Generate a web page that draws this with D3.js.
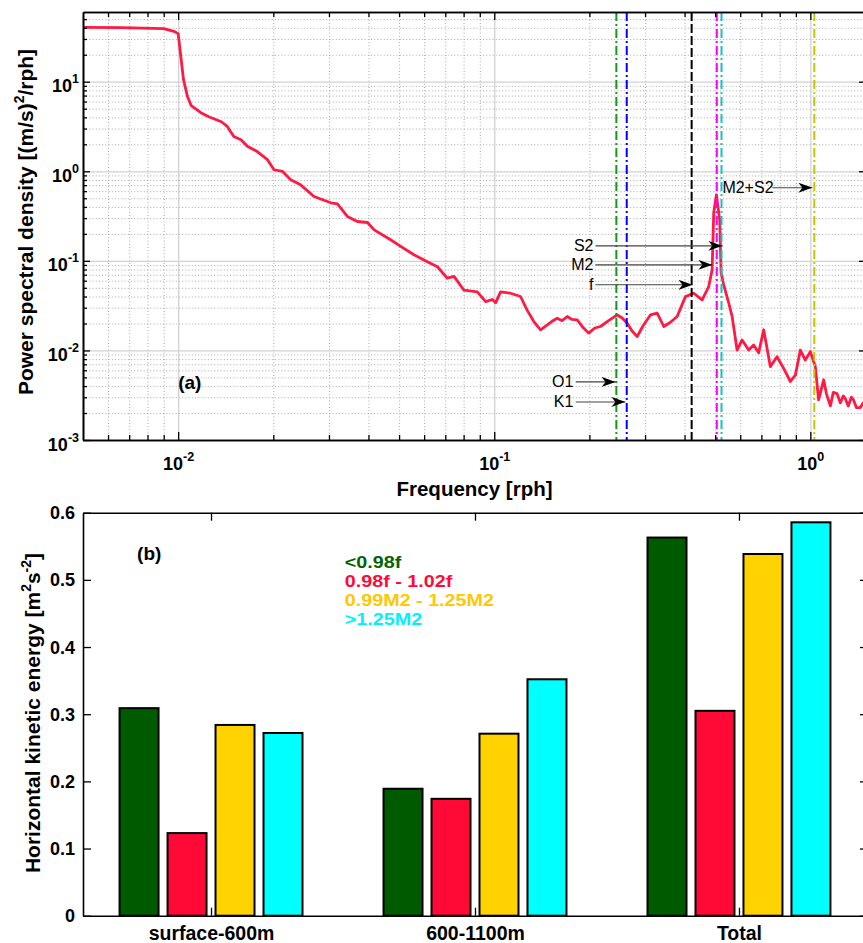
<!DOCTYPE html>
<html><head><meta charset="utf-8">
<script src="https://cdn.jsdelivr.net/npm/d3@7"></script>
<style>
html,body{margin:0;padding:0;background:#fff;}
svg{display:block;font-family:'Liberation Sans',Arial,Helvetica,sans-serif;}
</style></head><body>
<svg id="fig" width="863" height="943"></svg>
<script>
// ---------- panel (a): horizontal velocity spectrum ----------
const freq = [0.005,0.0066,0.009,0.0097,0.0100,0.0104,0.0107,0.0110,0.0118,0.0125,0.0137,0.0143,0.0150,0.0158,0.0166,0.0178,0.0192,0.0201,0.0214,0.0227,0.0244,0.0269,0.0304,0.0319,0.0343,0.0369,0.0397,0.0417,0.0470,0.0506,0.0557,0.0614,0.0661,0.0710,0.0746,0.0802,0.0884,0.0939,0.0986,0.1010,0.1047,0.1126,0.1211,0.1272,0.1334,0.1401,0.1472,0.1520,0.1582,0.1640,0.1702,0.1760,0.183,0.191,0.199,0.2080,0.2168,0.2300,0.2449,0.2540,0.2634,0.2730,0.2833,0.2960,0.3119,0.3277,0.3438,0.3600,0.379,0.4026,0.4276,0.4546,0.477,0.489,0.4947,0.5045,0.5167,0.522,0.532,0.5517,0.5656,0.5865,0.6082,0.6383,0.6617,0.6863,0.7118,0.7472,0.7845,0.8233,0.8644,0.8967,0.9298,0.9643,1.0,1.037,1.062,1.102,1.124,1.157,1.182,1.214,1.244,1.271,1.29,1.318,1.348,1.37,1.398,1.439,1.47,1.503];
const psd  = [40.4,40.1,39.1,36.5,34.4,10.5,6.85,5.40,4.51,4.06,3.57,3.17,2.45,2.25,1.89,1.66,1.34,1.04,0.995,0.804,0.706,0.523,0.445,0.433,0.313,0.275,0.268,0.222,0.172,0.145,0.117,0.098,0.086,0.064,0.067,0.047,0.045,0.035,0.037,0.034,0.045,0.0435,0.040,0.028,0.021,0.017,0.0193,0.0210,0.0229,0.0215,0.0239,0.0222,0.0219,0.0180,0.0156,0.0178,0.0185,0.0215,0.0249,0.0230,0.0201,0.0165,0.0143,0.0190,0.0249,0.0261,0.0185,0.0205,0.0239,0.0399,0.0435,0.0366,0.0516,0.0792,0.344,0.546,0.287,0.0735,0.054,0.034,0.0239,0.0101,0.0131,0.0101,0.0115,0.0094,0.0170,0.0066,0.0085,0.0063,0.0045,0.0053,0.0101,0.0078,0.0097,0.0066,0.0028,0.0047,0.0033,0.0024,0.0034,0.0033,0.0026,0.0031,0.0029,0.0024,0.0030,0.0028,0.0023,0.0023,0.0026,0.0025];

// tidal / inertial frequencies [rad/h]
const tideNames = ["O1","K1","f","M2","S2","M2+S2"];
const tideFreq  = [0.2434,0.2625,0.4212,0.5059,0.5236,1.0295];

const freqTicks = [0.01,0.1,1];
const psdTicks  = [1e-3,1e-2,1e-1,1,10];

// ---------- panel (b): band-integrated kinetic energy ----------
const layers    = ["surface-600m","600-1100m","Total"];
const bandNames = ["<0.98f","0.98f - 1.02f","0.99M2 - 1.25M2",">1.25M2"];
const subInertial = [0.309,0.189,0.563];
const nearInertial = [0.123,0.174,0.305];
const semidiurnal = [0.284,0.271,0.5385];
const superTidal = [0.272,0.352,0.5857];
const energyTicks = [0,0.1,0.2,0.3,0.4,0.5,0.6];

const bandValues = [subInertial, nearInertial, semidiurnal, superTidal];
const bandFill = ["#005a00","#ff0a37","#ffd200","#00ffff"];
const bandText = ["#006400","#ff0a37","#ffc800","#00f0ff"];

const tideStyle = {
  "O1":   {c:"#129a12", d:"9,3,2,3"},
  "K1":   {c:"#0000ff", d:"9,3,2,3"},
  "f":    {c:"#000000", d:"9,3"},
  "M2":   {c:"#ff00ff", d:"9,3,2,3"},
  "S2":   {c:"#18c0c0", d:"9,3,2,3"},
  "M2+S2":{c:"#c4c400", d:"9,3,2,3"}
};

const svg = d3.select("#fig");
const defs = svg.append("defs");

// ================= panel (a) =================
const A = {left:83, right:866, top:12, bottom:440};
const xA = d3.scaleLog().domain([0.005,1.5]).range([A.left,A.right]);
const yA = d3.scaleLog().domain([1e-3,60]).range([A.bottom,A.top]);

function minorLog(lo, hi){
  const v=[];
  for(let e=Math.floor(Math.log10(lo)); e<=Math.ceil(Math.log10(hi)); e++){
    for(let k=2;k<=9;k++){ const t=+(k*Math.pow(10,e)).toPrecision(6); if(t>lo*1.0001 && t<hi*0.9999) v.push(t); }
  }
  return v;
}
const xMinor = minorLog(0.005,1.5);
const yMinor = minorLog(1e-3,60);

defs.append("clipPath").attr("id","clipA").append("rect")
  .attr("x",A.left).attr("y",A.top).attr("width",A.right-A.left).attr("height",A.bottom-A.top);

const gA = svg.append("g");
const H = A.bottom-A.top, W = A.right-A.left;

function grid(g, axis){ g.call(axis); g.select(".domain").remove(); g.selectAll("text").remove(); return g; }

// minor grid (dotted)
grid(gA.append("g").attr("transform",`translate(0,${A.bottom})`),
  d3.axisBottom(xA).tickValues(xMinor).tickSize(-H).tickFormat(""))
  .selectAll("line").attr("stroke","#a8a8a8").attr("stroke-width",1).attr("stroke-dasharray","1,2.2");
grid(gA.append("g").attr("transform",`translate(${A.left},0)`),
  d3.axisLeft(yA).tickValues(yMinor).tickSize(-W).tickFormat(""))
  .selectAll("line").attr("stroke","#a8a8a8").attr("stroke-width",1).attr("stroke-dasharray","1,2.2");
// major grid (solid)
grid(gA.append("g").attr("transform",`translate(0,${A.bottom})`),
  d3.axisBottom(xA).tickValues(freqTicks).tickSize(-H).tickFormat(""))
  .selectAll("line").attr("stroke","#d2d2d2").attr("stroke-width",1.3);
grid(gA.append("g").attr("transform",`translate(${A.left},0)`),
  d3.axisLeft(yA).tickValues(psdTicks).tickSize(-W).tickFormat(""))
  .selectAll("line").attr("stroke","#d2d2d2").attr("stroke-width",1.3);

// spectrum
const plotA = gA.append("g").attr("clip-path","url(#clipA)");
plotA.append("path").datum(d3.zip(freq,psd))
  .attr("fill","none").attr("stroke","#ff1a44").attr("stroke-width",2.8).attr("stroke-linejoin","round")
  .attr("d", d3.line().x(d=>xA(d[0])).y(d=>yA(d[1])));

// tidal lines
plotA.selectAll("line.tide").data(tideNames).join("line").attr("class","tide")
  .attr("x1",(d,i)=>xA(tideFreq[i])).attr("x2",(d,i)=>xA(tideFreq[i]))
  .attr("y1",A.top).attr("y2",A.bottom)
  .attr("stroke",d=>tideStyle[d].c).attr("stroke-width",2).attr("stroke-dasharray",d=>tideStyle[d].d);

// axes frame + ticks
function frame(g, axis){ g.call(axis); g.select(".domain").attr("stroke","#000").attr("stroke-width",1.6);
  g.selectAll(".tick line").attr("stroke","#000").attr("stroke-width",1.3); return g; }
frame(gA.append("g").attr("transform",`translate(0,${A.bottom})`), d3.axisBottom(xA).tickValues(xMinor).tickSize(-5).tickSizeOuter(0).tickFormat("")).selectAll("text").remove();
frame(gA.append("g").attr("transform",`translate(0,${A.top})`), d3.axisTop(xA).tickValues(xMinor).tickSize(-5).tickSizeOuter(0).tickFormat("")).selectAll("text").remove();
frame(gA.append("g").attr("transform",`translate(0,${A.top})`), d3.axisTop(xA).tickValues(freqTicks).tickSize(-8).tickSizeOuter(0).tickFormat(""));
frame(gA.append("g").attr("transform",`translate(${A.left},0)`), d3.axisLeft(yA).tickValues(yMinor).tickSize(-4).tickSizeOuter(0).tickFormat("")).selectAll("text").remove();
frame(gA.append("g").attr("transform",`translate(${A.right},0)`), d3.axisRight(yA).tickValues(psdTicks).tickSize(-7).tickSizeOuter(0).tickFormat(""));

const xAx = frame(gA.append("g").attr("transform",`translate(0,${A.bottom})`),
  d3.axisBottom(xA).tickValues(freqTicks).tickSize(-8).tickSizeOuter(0));
xAx.selectAll(".tick text").each(function(d){
  const t=d3.select(this).text("").attr("y",30).attr("dy",0).attr("fill","#000")
    .attr("font-size",18).attr("font-weight","bold").attr("font-family","'Liberation Sans',Arial,sans-serif");
  t.append("tspan").text("10");
  t.append("tspan").attr("dy",-9).attr("font-size",12.5).text(String(Math.round(Math.log10(d))));
});
const yAx = frame(gA.append("g").attr("transform",`translate(${A.left},0)`),
  d3.axisLeft(yA).tickValues(psdTicks).tickSize(-7).tickSizeOuter(0));
yAx.selectAll(".tick text").each(function(d){
  const t=d3.select(this).text("").attr("x",-4).attr("dy",0).attr("y",10).attr("fill","#000")
    .attr("font-size",18).attr("font-weight","bold").attr("font-family","'Liberation Sans',Arial,sans-serif");
  t.append("tspan").text("10");
  t.append("tspan").attr("dy",-9).attr("font-size",12.5).text(String(Math.round(Math.log10(d))));
});

// axis titles
svg.append("text").attr("x",(A.left+A.right)/2).attr("y",496).attr("text-anchor","middle")
  .attr("font-size",20.5).attr("font-weight","bold").text("Frequency [rph]");
const yt = svg.append("text").attr("transform",`translate(33,${(A.top+A.bottom)/2 - 4}) rotate(-90)`)
  .attr("text-anchor","middle").attr("font-size",21).attr("font-weight","bold");
yt.append("tspan").text("Power spectral density [(m/s)");
yt.append("tspan").attr("dy",-9).attr("font-size",14).text("2");
yt.append("tspan").attr("dy",9).text("/rph]");

svg.append("text").attr("x",xA(0.01)).attr("y",yA(0.00445)+7).attr("font-size",19).attr("font-weight","bold").text("(a)");

// annotations with arrows
defs.append("marker").attr("id","head").attr("viewBox","0 -5 14 10").attr("refX",14).attr("refY",0)
  .attr("markerUnits","userSpaceOnUse").attr("markerWidth",14).attr("markerHeight",10).attr("orient","auto")
  .append("path").attr("d","M0,-5L14,0L0,5L4,0Z").attr("fill","#000");

const notes = [
  {label:"M2+S2", anchor:"start", tx:0.527, x0:0.758, x1:1.015, y:0.655},
  {label:"S2", anchor:"end", tx:0.206, x0:0.209, x1:0.527, y:0.147},
  {label:"M2", anchor:"end", tx:0.206, x0:0.209, x1:0.490, y:0.0902},
  {label:"f",  anchor:"end", tx:0.206, x0:0.209, x1:0.424, y:0.054},
  {label:"O1", anchor:"end", tx:0.178, x0:0.181, x1:0.242, y:0.00445},
  {label:"K1", anchor:"end", tx:0.178, x0:0.181, x1:0.260, y:0.00266}
];
const gN = svg.append("g");
gN.selectAll("line").data(notes).join("line")
  .attr("x1",d=>xA(d.x0)).attr("x2",d=>xA(d.x1)).attr("y1",d=>yA(d.y)).attr("y2",d=>yA(d.y))
  .attr("stroke","#444").attr("stroke-width",1.1).attr("marker-end","url(#head)");
gN.selectAll("text").data(notes).join("text")
  .attr("x",d=>xA(d.tx)).attr("y",d=>yA(d.y)+5.5).attr("text-anchor",d=>d.anchor)
  .attr("font-size",16).attr("fill","#000").text(d=>d.label);

// ================= panel (b) =================
const B = {left:83, right:866, top:512.7, bottom:915.7};
const xB = d3.scaleLinear().domain([0.515,3.485]).range([B.left,B.right+1]);
const yB = d3.scaleLinear().domain([0,0.6]).range([B.bottom,B.top]);
const groupW = (xB(2)-xB(1))*0.693;
const band = d3.scaleBand().domain(bandNames).range([-groupW/2,groupW/2]).paddingInner(0.1875);

const gB = svg.append("g");

frame(gB.append("g").attr("transform",`translate(0,${B.top})`), d3.axisTop(xB).tickValues([1,2,3]).tickSize(-8).tickSizeOuter(0).tickFormat(""));
frame(gB.append("g").attr("transform",`translate(${B.right},0)`), d3.axisRight(yB).tickValues(energyTicks).tickSize(-6).tickSizeOuter(0).tickFormat(""));

const bars = gB.append("g");
bandNames.forEach((b,j)=>{
  bars.selectAll(null).data(layers).join("rect")
    .attr("x",(d,i)=>xB(i+1)+band(b)).attr("width",band.bandwidth())
    .attr("y",(d,i)=>yB(bandValues[j][i])).attr("height",(d,i)=>yB(0)-yB(bandValues[j][i]))
    .attr("fill",bandFill[j]).attr("stroke","#000").attr("stroke-width",2);
});

const xBx = frame(gB.append("g").attr("transform",`translate(0,${B.bottom})`),
  d3.axisBottom(xB).tickValues([1,2,3]).tickSize(-8).tickSizeOuter(0).tickFormat(i=>layers[i-1]));
xBx.selectAll(".tick text").attr("y",24).attr("dy",0).attr("fill","#000").attr("font-size",19.5)
  .attr("font-weight","bold").attr("font-family","'Liberation Sans',Arial,sans-serif");
const yBx = frame(gB.append("g").attr("transform",`translate(${B.left},0)`),
  d3.axisLeft(yB).tickValues(energyTicks).tickSize(-8).tickSizeOuter(0).tickFormat(d=>d===0?"0":d3.format(".1f")(d)));
yBx.selectAll(".tick text").attr("x",-8).attr("dy","0.34em").attr("fill","#000").attr("font-size",18)
  .attr("font-weight","bold").attr("font-family","'Liberation Sans',Arial,sans-serif");

const yt2 = svg.append("text").attr("transform",`translate(40,713) rotate(-90)`)
  .attr("text-anchor","middle").attr("font-size",21).attr("font-weight","bold");
yt2.append("tspan").text("Horizontal kinetic energy [m");
yt2.append("tspan").attr("dy",-9).attr("font-size",14).text("2");
yt2.append("tspan").attr("dy",9).text("s");
yt2.append("tspan").attr("dy",-9).attr("font-size",14).text("-2");
yt2.append("tspan").attr("dy",9).text("]");

svg.append("text").attr("x",xB(0.72)).attr("y",yB(0.54)+7).attr("font-size",19).attr("font-weight","bold").text("(b)");

// legend: coloured band names (slightly widened bold face)
const leg = svg.append("g").attr("transform",`translate(${xB(1.507)},${yB(0.526)+6}) scale(1.16,1)`);
leg.selectAll("text").data(bandNames).join("text")
  .attr("x",0).attr("y",(d,i)=>i*18.8).attr("font-size",17).attr("font-weight","bold")
  .attr("fill",(d,i)=>bandText[i]).text(d=>d);
</script>
</body></html>
